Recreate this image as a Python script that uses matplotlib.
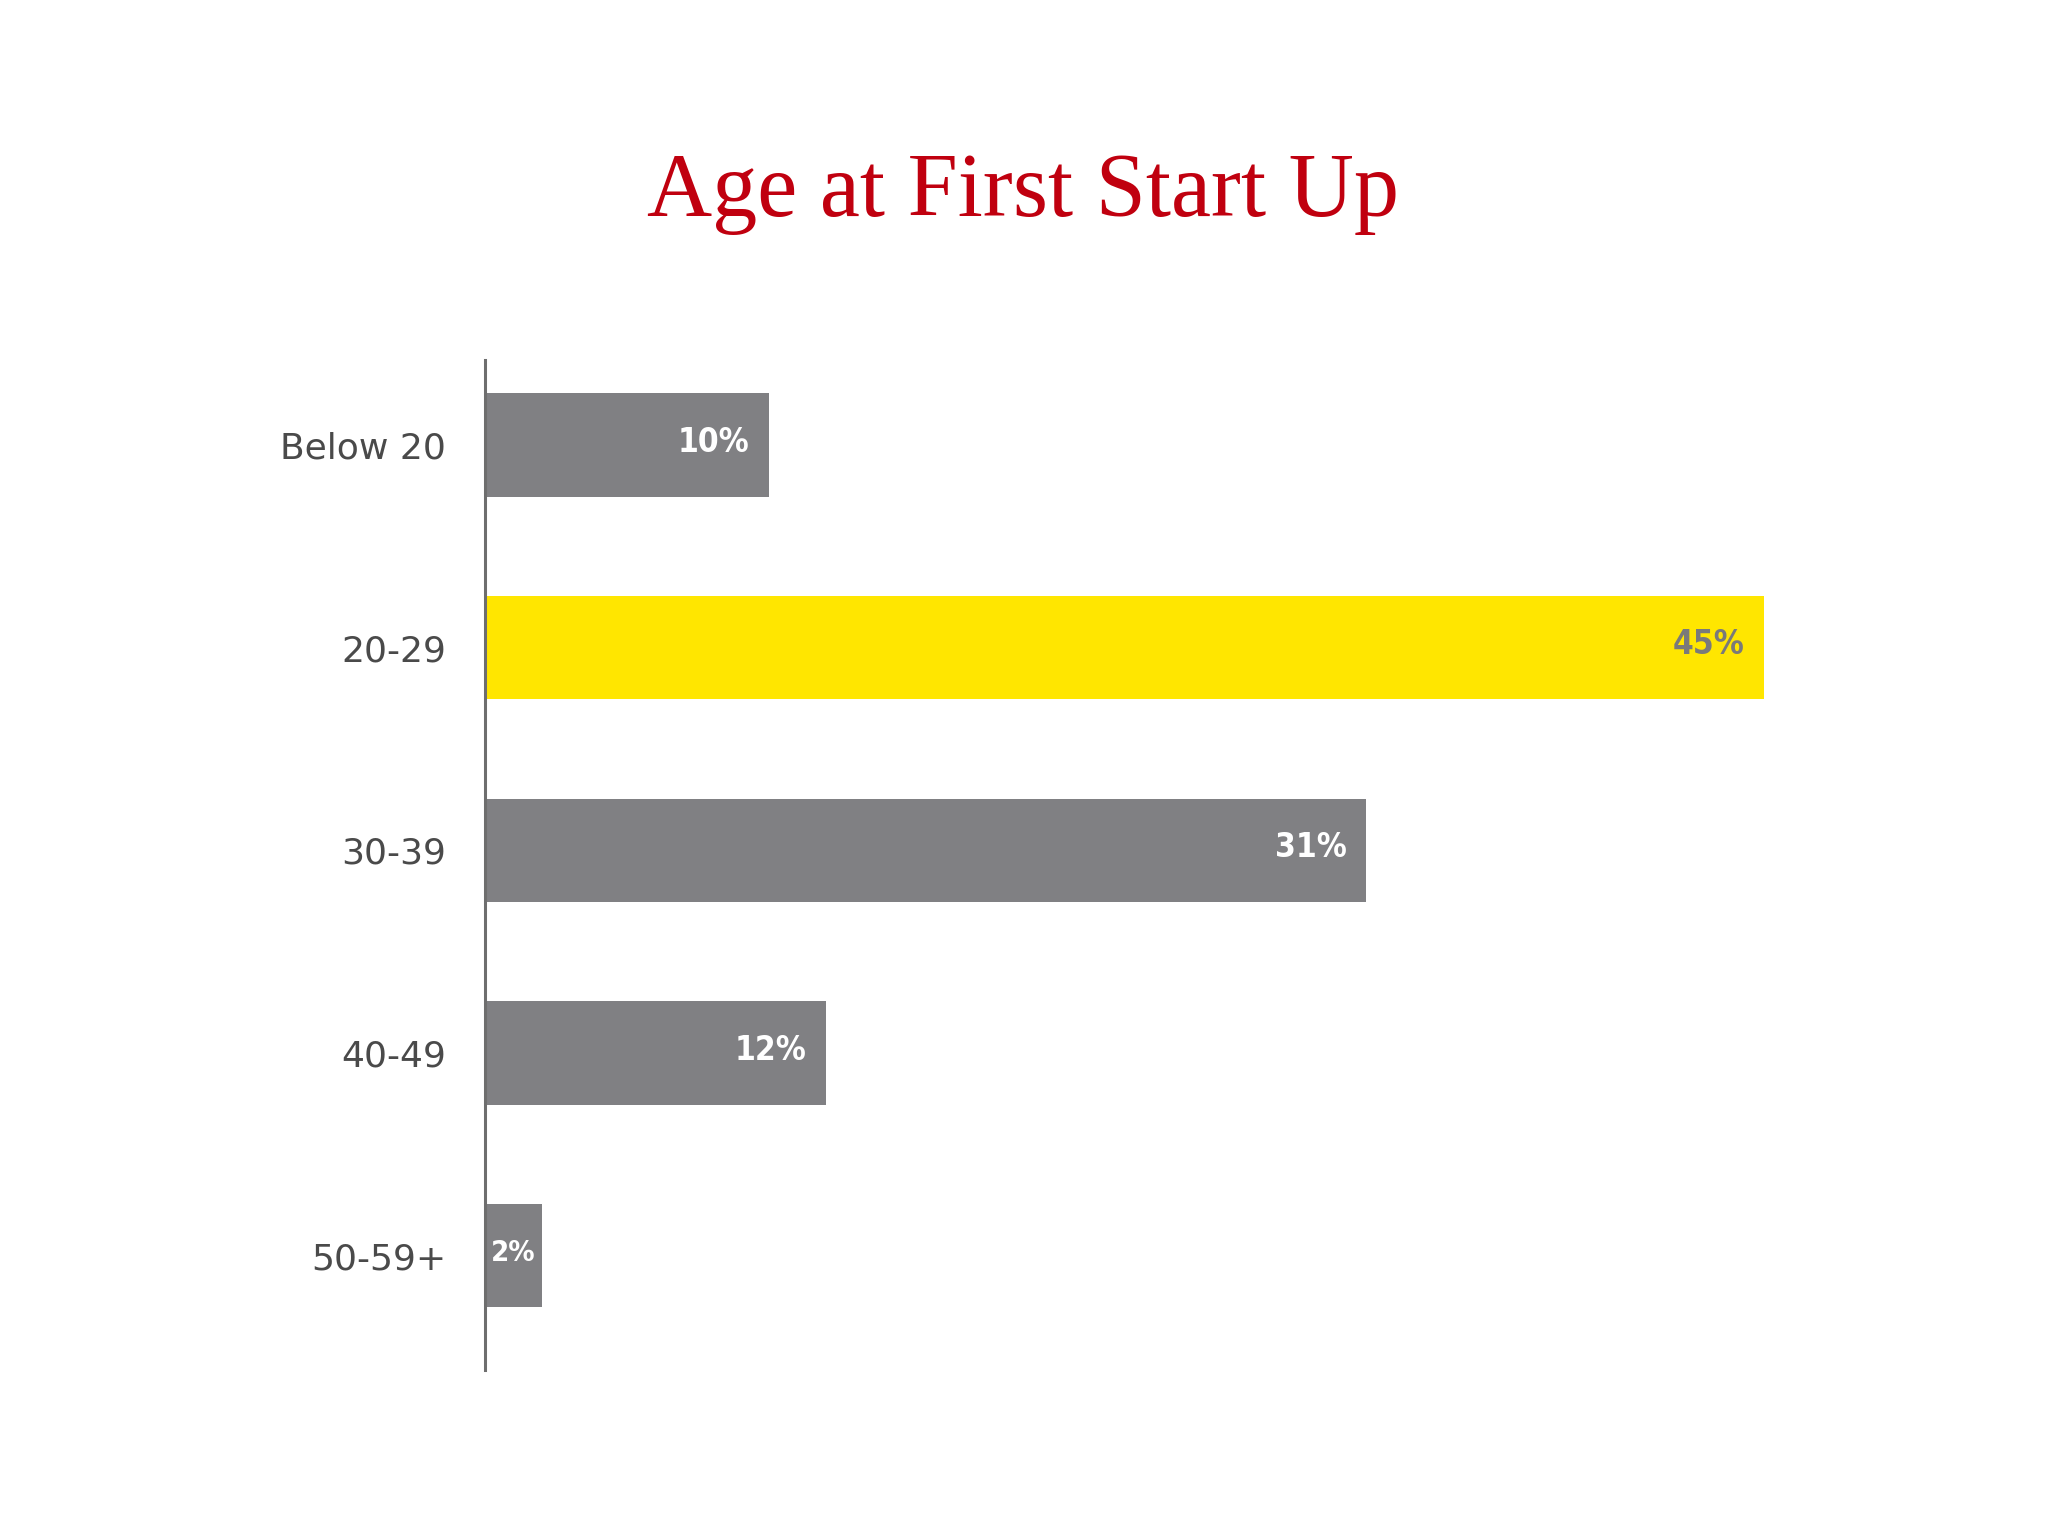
import numpy as np
import matplotlib
matplotlib.use("Agg")
import matplotlib.pyplot as plt

# data
categories = ["Below 20", "20-29", "30-39", "40-49", "50-59+"]
values = [10, 45, 31, 12, 2]
value_labels = ["10%", "45%", "31%", "12%", "2%"]
highlight = "20-29"

grey = "#808083"
yellow = "#FFE600"

fig = plt.figure(figsize=(20.48, 15.35), dpi=100)
ax = fig.add_axes([485/2048, 1 - 1370/1535, 1415/2048, 1010/1535])

y = np.arange(len(categories))
colors = [yellow if c == highlight else grey for c in categories]
ax.barh(y, values, height=0.51, color=colors, edgecolor="none")

for yi, v, lab, c in zip(y, values, value_labels, colors):
    tc = "#7a7a7a" if c == yellow else "white"
    if v < 5:
        # too short for a right-aligned label, centre it in the bar
        ax.annotate(lab, (v / 2, yi), xytext=(0, 2), textcoords="offset points",
                    ha="center", va="center", fontsize=21, fontweight="bold",
                    color=tc, fontstretch="condensed")
    else:
        ax.annotate(lab, (v, yi), xytext=(-14, 2), textcoords="offset points",
                    ha="right", va="center", fontsize=24, fontweight="bold",
                    color=tc, fontstretch="condensed")

ax.set_ylim(4.565, -0.42)
ax.set_xlim(0, 1415 / 28.42)
ax.set_yticks(y)
ax.set_yticklabels(categories, fontsize=26, color="#4a4a4a")
ax.tick_params(axis="y", length=0, pad=28)
ax.set_xticks([])
for s in ["top", "right", "bottom"]:
    ax.spines[s].set_visible(False)
ax.spines["left"].set_color("#6e6e6e")
ax.spines["left"].set_linewidth(2.2)

fig.text(1023/2048, 1 - 194/1535, "Age at First Start Up", ha="center", va="center",
         fontsize=65, color="#C0000F", family="Liberation Serif")

fig.savefig("out.png", dpi=100, facecolor="white")
